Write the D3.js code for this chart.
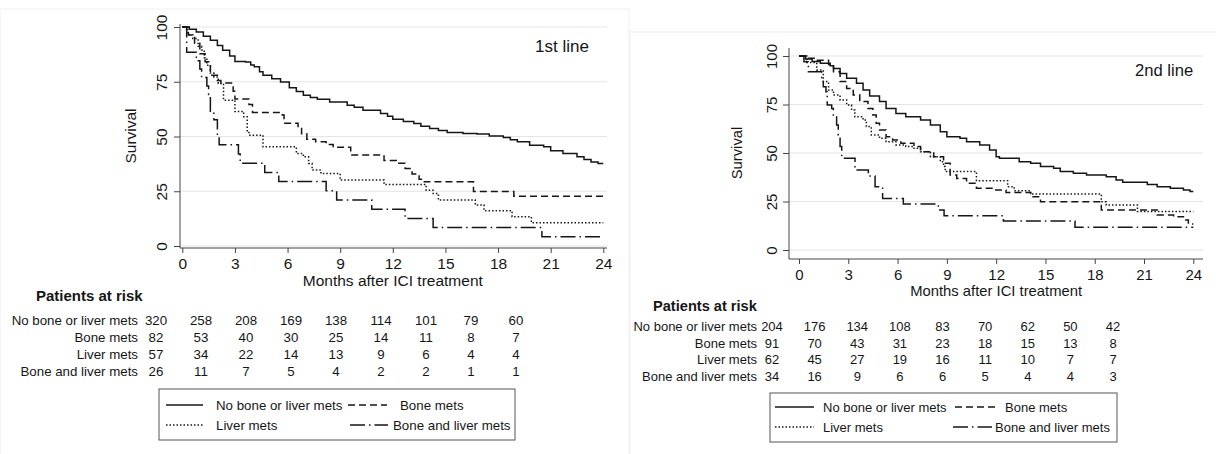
<!DOCTYPE html>
<html>
<head>
<meta charset="utf-8">
<script src="https://cdn.jsdelivr.net/npm/d3@7"></script>
<style>
  body { margin: 0; background: #fff; }
  svg { font-family: "Liberation Sans", Arial, sans-serif; }
</style>
</head>
<body>
<div id="container"></div>
<script>
let w = 1216;
let h = 454;

// months shown on the x axis and in the at-risk table
let months = [0, 3, 6, 9, 12, 15, 18, 21, 24];
let groups = ["No bone or liver mets", "Bone mets", "Liver mets", "Bone and liver mets"];
let yTicks = [0, 25, 50, 75, 100];

// 1st line Kaplan-Meier curves, [month, survival %]
let km1None = [[0,100],[0.4,99],[0.8,97.7],[1.2,95.8],[1.6,93.9],[2.0,91.5],[2.3,89.4],[2.7,86.8],[3.0,84.3],[3.6,84.0],[3.9,82.7],[4.1,81.8],[4.4,79.6],[4.6,78.0],[5.1,76.4],[5.6,74.9],[6.1,72.3],[6.5,70.6],[6.9,68.8],[7.3,67.8],[7.7,67.0],[8.4,65.8],[9.4,64.3],[9.8,63.3],[10.3,62.0],[11.3,60.5],[11.7,59.2],[12.0,57.9],[12.6,56.9],[13.2,55.9],[13.6,54.7],[14.1,53.6],[14.6,52.7],[15.1,51.8],[16.0,51.4],[16.8,51.1],[17.5,50.2],[18.3,49.5],[18.7,48.5],[19.1,47.6],[19.8,46.0],[20.6,45.3],[21.0,43.5],[21.7,42.2],[22.5,40.7],[22.9,39.5],[23.3,38.4],[23.7,37.7],[24,37.7]];
let km1Bone = [[0,100],[0.35,96.3],[0.7,92.6],[1.0,87.8],[1.3,84.1],[1.6,78.0],[2.0,75.6],[2.2,74.4],[2.9,70.7],[3.0,67.1],[3.8,64.6],[4.0,61.0],[5.7,59.8],[5.8,56.1],[6.6,53.7],[6.8,51.2],[7.1,48.8],[7.6,47.6],[8.2,46.3],[8.6,45.1],[9.6,41.5],[11.5,39.0],[12.2,37.8],[12.7,35.4],[13.1,32.9],[13.5,30.5],[13.8,29.3],[16.6,24.9],[18.9,22.7],[24,22.7]];
let km1Liver = [[0,100],[0.3,96.5],[0.6,94.7],[0.9,91.2],[1.1,89.5],[1.25,86.0],[1.4,82.5],[1.6,79.0],[1.8,77.2],[2.05,74.2],[2.35,66.6],[3.0,61.4],[3.5,59.0],[3.7,52.6],[3.8,50.6],[4.6,45.3],[6.5,42.2],[6.9,40.7],[7.2,37.7],[7.4,34.7],[7.9,33.1],[9.0,30.1],[11.5,28.1],[13.9,25.5],[14.3,24.0],[14.6,21.0],[16.7,18.7],[17.2,16.1],[18.8,13.4],[19.9,10.6],[24,10.6]];
let km1Both = [[0,100],[0.25,88.5],[0.8,84.6],[1.0,80.8],[1.1,76.9],[1.4,73.1],[1.5,69.2],[1.6,61.5],[1.8,57.7],[2.0,50.0],[2.1,46.2],[3.2,42.0],[3.3,37.8],[4.7,33.6],[5.5,29.4],[8.2,25.2],[8.8,21.0],[10.8,16.8],[12.7,12.6],[14.3,8.4],[20.5,4.2],[24,4.2]];

// 2nd line Kaplan-Meier curves
let km2None = [[0,100],[0.4,98.5],[0.8,97.2],[1.3,96.2],[1.9,95.0],[2.1,93.6],[2.5,91.0],[2.9,88.5],[3.5,85.9],[3.9,82.5],[4.3,79.4],[4.9,76.5],[5.3,73.0],[5.9,70.4],[6.5,68.7],[7.4,67.0],[8.0,64.4],[8.6,61.0],[9.0,58.4],[9.8,57.6],[10.2,55.8],[11.0,54.1],[11.6,51.5],[12.0,48.1],[12.2,47.3],[13.4,45.5],[14.1,44.7],[14.7,43.0],[15.5,42.1],[15.9,40.4],[16.7,39.5],[17.5,38.7],[18.7,37.8],[19.3,36.1],[19.7,34.9],[21.2,33.8],[21.8,32.6],[22.6,31.8],[23.4,30.9],[23.8,30.1],[24,30.1]];
let km2Bone = [[0,100],[0.5,98.9],[1.0,97.8],[1.8,95.6],[2.1,91.9],[2.5,86.8],[2.9,83.3],[3.3,79.9],[3.7,76.5],[4.2,73.0],[4.5,69.6],[4.7,65.3],[4.9,61.9],[5.3,58.4],[5.7,56.7],[6.2,55.0],[7.0,53.3],[7.4,50.7],[8.2,48.1],[8.8,44.7],[9.2,38.7],[9.6,36.9],[10.2,34.4],[10.8,31.8],[11.8,30.9],[12.6,29.6],[14.1,27.5],[14.7,24.9],[18.4,20.6],[21.8,18.0],[22.8,17.2],[23.4,15.5],[23.7,13.4],[24,13.4]];
let km2Liver = [[0,100],[0.47,96.6],[1.08,92.8],[1.48,86.8],[1.8,82.5],[2.1,79.9],[2.5,77.3],[2.9,74.7],[3.2,72.2],[3.4,68.7],[3.9,67.0],[4.1,63.6],[4.4,59.3],[4.9,57.6],[5.3,55.8],[5.9,54.1],[6.5,53.3],[7.0,52.4],[7.4,50.7],[8.0,48.1],[8.6,45.5],[8.8,43.0],[8.9,40.4],[10.8,35.7],[12.7,32.6],[13.1,30.6],[14.1,28.9],[18.4,24.9],[18.7,23.2],[20.6,19.8],[24,19.8]];
let km2Both = [[0,100],[0.3,97.1],[0.57,91.9],[1.38,86.8],[1.48,84.2],[1.64,81.6],[1.72,74.7],[1.99,73.0],[2.09,68.7],[2.29,64.4],[2.39,59.3],[2.5,53.3],[2.6,47.3],[3.41,41.2],[4.22,38.1],[4.63,32.6],[5.09,26.6],[6.35,23.7],[8.48,20.6],[8.83,17.7],[12.44,14.9],[16.8,11.7],[24,11.7]];

// numbers at risk
let risk1None = [320, 258, 208, 169, 138, 114, 101, 79, 60];
let risk1Bone = [82, 53, 40, 30, 25, 14, 11, 8, 7];
let risk1Liver = [57, 34, 22, 14, 13, 9, 6, 4, 4];
let risk1Both = [26, 11, 7, 5, 4, 2, 2, 1, 1];
let risk2None = [204, 176, 134, 108, 83, 70, 62, 50, 42];
let risk2Bone = [91, 70, 43, 31, 23, 18, 15, 13, 8];
let risk2Liver = [62, 45, 27, 19, 16, 11, 10, 7, 7];
let risk2Both = [34, 16, 9, 6, 6, 5, 4, 4, 3];

let dashes = [null, "7,4", "1.5,2", "15,4,1.5,4"];
let ink = "#161616";

let viz = d3.select("#container")
  .append("svg")
    .attr("width", w)
    .attr("height", h)
;

function drawPanel(p){
  let g = viz.append("g");

  // faint frame of the original figure panel
  g.append("rect")
    .attr("x", p.frame[0]).attr("y", p.frame[1])
    .attr("width", p.frame[2]).attr("height", p.frame[3])
    .attr("fill", "none").attr("stroke", "#efefef");

  let xScale = d3.scaleLinear().domain([0, 24]).range([p.x0, p.x1]);
  let yScale = d3.scaleLinear().domain([0, 100]).range([p.y0, p.y1]);

  // gridlines
  g.selectAll(".grid").data(yTicks).enter().append("line")
    .attr("x1", p.axisX).attr("x2", p.gridEnd)
    .attr("y1", d => yScale(d)).attr("y2", d => yScale(d))
    .attr("stroke", "#e4e4e4").attr("stroke-width", 1);

  // y axis
  let yAxisGroup = g.append("g").attr("transform", "translate(" + p.axisX + ",0)")
    .call(d3.axisLeft(yScale).tickValues(yTicks).tickSize(6).tickSizeOuter(0));
  yAxisGroup.select(".domain").remove();
  yAxisGroup.append("line").attr("y1", p.axisTop).attr("y2", p.xAxisY).attr("stroke", "#444");
  yAxisGroup.selectAll("line").attr("stroke", "#444");
  yAxisGroup.selectAll("text")
    .attr("transform", "rotate(-90)")
    .attr("x", 0).attr("y", p.yLabX).attr("dy", "0.35em")
    .attr("text-anchor", "middle")
    .attr("fill", ink)
    .style("font-size", p.tickFont + "px");

  // x axis
  let xAxisGroup = g.append("g").attr("transform", "translate(0," + p.xAxisY + ")")
    .call(d3.axisBottom(xScale).tickValues(months).tickSize(5).tickPadding(p.tickPad).tickSizeOuter(0));
  xAxisGroup.select(".domain").remove();
  xAxisGroup.append("line").attr("x1", p.axisX).attr("x2", p.gridEnd).attr("stroke", "#444");
  xAxisGroup.selectAll("line").attr("stroke", "#444");
  xAxisGroup.selectAll("text").attr("fill", ink).style("font-size", p.tickFont + "px");

  g.append("text")
    .attr("x", (p.x0 + p.x1) / 2).attr("y", p.xTitleY)
    .attr("text-anchor", "middle").attr("fill", ink)
    .style("font-size", p.titleFont + "px")
    .text("Months after ICI treatment");

  g.append("text")
    .attr("transform", "translate(" + p.survX + "," + p.survY + ") rotate(-90)")
    .attr("text-anchor", "middle").attr("dy", "0.35em").attr("fill", ink)
    .style("font-size", p.titleFont + "px")
    .text("Survival");

  g.append("text")
    .attr("x", p.tagX).attr("y", p.tagY)
    .attr("fill", ink).style("font-size", p.tagFont + "px")
    .text(p.tag);

  // survival curves
  let line = d3.line()
    .x(d => xScale(d[0]))
    .y(d => yScale(d[1]))
    .curve(d3.curveStepAfter);

  g.selectAll(".km").data(p.curves).enter().append("path")
    .attr("d", d => line(d))
    .attr("fill", "none")
    .attr("stroke", ink)
    .attr("stroke-width", 1.5)
    .attr("stroke-dasharray", (d, i) => dashes[i]);

  // patients at risk table
  let colScale = d3.scalePoint().domain(months).range([p.tabX0, p.tabX1]);

  g.append("text")
    .attr("x", p.riskTitleX).attr("y", p.riskTitleY)
    .attr("fill", ink).attr("font-weight", "bold")
    .style("font-size", p.riskTitleFont + "px")
    .text("Patients at risk");

  p.risk.forEach(function(row, i){
    let ry = p.rowY0 + i * p.rowStep;
    g.append("text")
      .attr("x", p.rowLabelX).attr("y", ry)
      .attr("text-anchor", "end").attr("fill", ink)
      .style("font-size", p.tabFont + "px")
      .text(groups[i]);
    g.selectAll(".r" + i).data(row).enter().append("text")
      .attr("x", (d, j) => colScale(months[j])).attr("y", ry)
      .attr("text-anchor", "middle").attr("fill", ink)
      .style("font-size", p.tabFont + "px")
      .text(d => d);
  });

  // legend
  let L = p.legend;
  g.append("rect")
    .attr("x", L.x).attr("y", L.y).attr("width", L.w).attr("height", L.h)
    .attr("fill", "none").attr("stroke", "#555").attr("stroke-width", 1);

  L.items.forEach(function(it, i){
    g.append("line")
      .attr("x1", it[0]).attr("x2", it[1])
      .attr("y1", it[2]).attr("y2", it[2])
      .attr("stroke", ink).attr("stroke-width", 1.3)
      .attr("stroke-dasharray", dashes[i]);
    g.append("text")
      .attr("x", it[3]).attr("y", it[2] + 5)
      .attr("fill", ink).style("font-size", p.tabFont + "px")
      .text(groups[i]);
  });
}

drawPanel({
  frame: [0, 9, 629, 460],
  x0: 182.3, x1: 603.3, y0: 246, y1: 27,
  axisX: 180, axisTop: 24, gridEnd: 607, xAxisY: 248,
  yLabX: -18.3, tickFont: 15.5, tickPad: 4.5, titleFont: 15.5,
  xTitleY: 286, survX: 131, survY: 136,
  tag: "1st line", tagX: 535, tagY: 52, tagFont: 17,
  curves: [km1None, km1Bone, km1Liver, km1Both],
  risk: [risk1None, risk1Bone, risk1Liver, risk1Both],
  tabX0: 156, tabX1: 516, riskTitleX: 36, riskTitleY: 301, riskTitleFont: 15,
  rowLabelX: 138, rowY0: 325, rowStep: 17, tabFont: 13.3,
  legend: {x: 159, y: 389, w: 356, h: 51,
    items: [[166, 203, 405, 216], [348, 387, 405, 400], [166, 203, 425, 216], [350, 388, 425, 393]]}
});

drawPanel({
  frame: [630, 32, 600, 440],
  x0: 799, x1: 1193.3, y0: 250, y1: 56,
  axisX: 789, axisTop: 48, gridEnd: 1203, xAxisY: 259,
  yLabX: -17.3, tickFont: 15, tickPad: 5, titleFont: 14.8,
  xTitleY: 296, survX: 737, survY: 153,
  tag: "2nd line", tagX: 1135, tagY: 76, tagFont: 16.6,
  curves: [km2None, km2Bone, km2Liver, km2Both],
  risk: [risk2None, risk2Bone, risk2Liver, risk2Both],
  tabX0: 772, tabX1: 1113, riskTitleX: 653, riskTitleY: 311, riskTitleFont: 14.6,
  rowLabelX: 757, rowY0: 331, rowStep: 16.7, tabFont: 13,
  legend: {x: 770, y: 393, w: 347, h: 49,
    items: [[775, 814, 407, 823], [955, 995, 407, 1005], [775, 814, 427, 823], [953, 992, 427, 995]]}
});
</script>
</body>
</html>
